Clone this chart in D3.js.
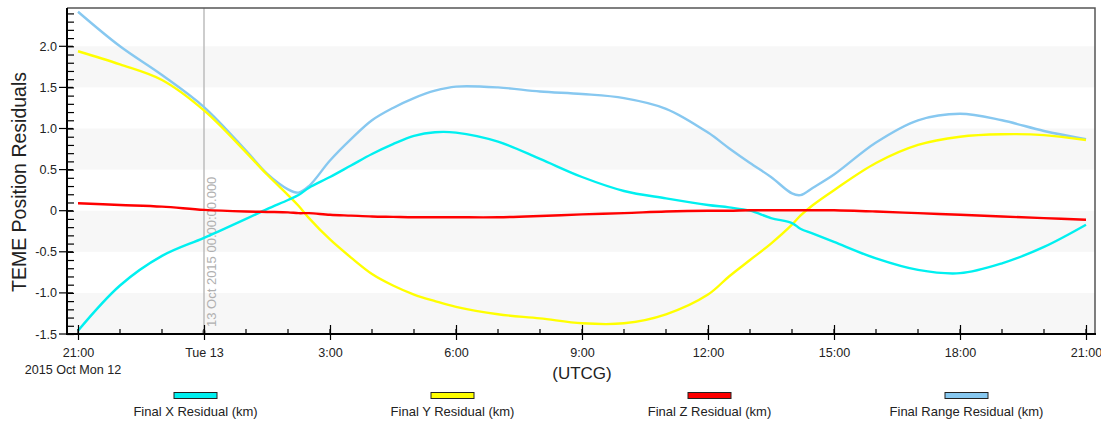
<!DOCTYPE html>
<html><head><meta charset="utf-8">
<script src="https://cdn.jsdelivr.net/npm/d3@7"></script>
<style>
html,body{margin:0;padding:0;background:#fff;}
svg{display:block;font-family:"Liberation Sans",Arial,sans-serif;}
</style></head>
<body>
<svg id="chart" width="1101" height="421"></svg>
<script>
// hours after 2015-10-12 21:00 UTCG
const hours = [0,1,2,3,4,4.5,5,5.25,5.5,6,6.5,7,7.5,8,8.5,9,10,11,12,13,14,15,15.5,16,16.5,17,17.2,17.5,18,19,20,21,22,23,24];
const xResidual = [-1.46,-0.91,-0.55,-0.33,-0.10,0.02,0.13,0.19,0.28,0.41,0.55,0.69,0.81,0.91,0.955,0.95,0.84,0.63,0.41,0.24,0.15,0.07,0.04,0.0,-0.09,-0.15,-0.22,-0.28,-0.38,-0.58,-0.72,-0.76,-0.64,-0.44,-0.17];
const yResidual = [1.94,1.78,1.59,1.22,0.71,0.44,0.19,0.06,-0.09,-0.35,-0.57,-0.77,-0.91,-1.02,-1.10,-1.17,-1.26,-1.31,-1.37,-1.37,-1.26,-1.02,-0.80,-0.60,-0.40,-0.17,-0.06,0.07,0.25,0.58,0.80,0.90,0.93,0.92,0.86];
const zResidual = [0.09,0.07,0.05,0.01,-0.01,-0.015,-0.02,-0.03,-0.03,-0.05,-0.06,-0.07,-0.075,-0.08,-0.08,-0.08,-0.08,-0.065,-0.045,-0.03,-0.01,0.0,0.0,0.005,0.005,0.005,0.005,0.005,0.005,-0.01,-0.03,-0.05,-0.07,-0.09,-0.11];
const rangeResidual = [2.42,2.00,1.65,1.26,0.73,0.45,0.26,0.22,0.30,0.61,0.87,1.10,1.25,1.37,1.46,1.51,1.50,1.45,1.42,1.37,1.24,0.95,0.76,0.58,0.41,0.21,0.19,0.28,0.44,0.83,1.10,1.18,1.10,0.97,0.87];

const seriesNames = ["Final X Residual (km)","Final Y Residual (km)","Final Z Residual (km)","Final Range Residual (km)"];
const seriesColors = ["#00f0f0","#ffff00","#ff0000","#87c8f0"];
const yMajorTicks = [-1.5,-1.0,-0.5,0,0.5,1.0,1.5,2.0];
const yTickLabels = ["-1.5","-1.0","-0.5","0","0.5","1.0","1.5","2.0"];
const xMajorHours = [0,3,6,9,12,15,18,21,24];
const xTickLabels = ["21:00","Tue 13","3:00","6:00","9:00","12:00","15:00","18:00","21:00"];
const bands = [[1.5,2.0],[0.5,1.0],[-0.5,0],[-1.5,-1.0]];
const markerHour = 3;
const markerLabel = "13 Oct 2015 00:00:00.000";

const svg = d3.select("#chart");
const L = 67, R = 1095, T = 8, B = 334;
const t0 = new Date(Date.UTC(2015,9,12,21,0,0));
const hd = h => new Date(t0.getTime() + h*3600000);
const x = d3.scaleUtc().domain([hd(-11/42), hd(24 + 9/42)]).range([L, R]);
const y = d3.scaleLinear().domain([-1.5, -1.5 + (B - T)/82.2]).range([B, T]);
const FONT = "'Liberation Sans',Arial,sans-serif";

// bands
svg.append("g").selectAll("rect").data(bands).join("rect")
  .attr("x", L).attr("width", R - L)
  .attr("y", d => y(d[1])).attr("height", d => y(d[0]) - y(d[1]))
  .attr("fill", "#f7f7f7");

// marker line
svg.append("line").attr("x1", x(hd(markerHour))).attr("x2", x(hd(markerHour)))
  .attr("y1", T).attr("y2", B).attr("stroke", "#bdbdbd").attr("stroke-width", 1.5);
svg.append("circle").attr("cx", x(hd(markerHour))).attr("cy", B - 2).attr("r", 2.2).attr("fill", "#aaa");
svg.append("text")
  .attr("transform", `translate(${x(hd(markerHour)) + 12},${B - 7}) rotate(-90)`)
  .attr("font-size", 13).attr("fill", "#b0b0b0").text(markerLabel);

// lines
const allSeries = [xResidual, yResidual, zResidual, rangeResidual];
const line = d3.line().x((d,i) => x(hd(hours[i]))).y(d => y(d)).curve(d3.curveCatmullRom.alpha(0.5));
const drawOrder = [3,1,0,2];
drawOrder.forEach(k => {
  svg.append("path").datum(allSeries[k]).attr("d", line)
    .attr("fill", "none").attr("stroke", seriesColors[k]).attr("stroke-width", 2.4)
    .attr("stroke-linejoin", "round");
});

// frame (top/right)
svg.append("path").attr("d", `M${L},${T}H${R}V${B}`).attr("fill", "none")
  .attr("stroke", "#555").attr("stroke-width", 1.5);

// y axis
const yMinor = d3.range(-15, 25).map(v => v/10);
svg.append("g").attr("transform", `translate(${L},0)`)
  .call(d3.axisLeft(y).tickValues(yMinor).tickSize(-7).tickFormat(""))
  .call(g => g.select(".domain").remove())
  .call(g => g.selectAll("line").attr("stroke", "#000").attr("stroke-width", 1.2));
svg.append("g").attr("transform", `translate(${L},0)`)
  .call(d3.axisLeft(y).tickValues(yMajorTicks).tickSize(0).tickPadding(10)
    .tickFormat((d,i) => yTickLabels[i]))
  .call(g => g.select(".domain").remove())
  .call(g => g.selectAll("text").attr("font-size", 12.6).attr("fill", "#222").attr("font-family", FONT));
svg.append("g").selectAll("line").data(yMajorTicks).join("line")
  .attr("x1", L - 8).attr("x2", L + 6).attr("y1", d => y(d)).attr("y2", d => y(d))
  .attr("stroke", "#000").attr("stroke-width", 1.2);
svg.append("line").attr("x1", L).attr("x2", L).attr("y1", T).attr("y2", B + 1)
  .attr("stroke", "#000").attr("stroke-width", 2);

// x axis
const xMinorHours = d3.range(0, 25);
svg.append("g").selectAll("line").data(xMinorHours).join("line")
  .attr("x1", d => x(hd(d))).attr("x2", d => x(hd(d)))
  .attr("y1", B - 5).attr("y2", B).attr("stroke", "#000").attr("stroke-width", 1.2);
svg.append("g").attr("transform", `translate(0,${B})`)
  .call(d3.axisBottom(x).tickValues(xMajorHours.map(hd)).tickSize(6).tickPadding(8)
    .tickFormat((d,i) => xTickLabels[i]))
  .call(g => g.select(".domain").remove())
  .call(g => g.selectAll("line").attr("stroke", "#000").attr("stroke-width", 1.2).attr("y1", -9))
  .call(g => g.selectAll("text").attr("font-size", 12.6).attr("fill", "#222").attr("font-family", FONT));
svg.append("line").attr("x1", L - 1).attr("x2", R + 1).attr("y1", B).attr("y2", B)
  .attr("stroke", "#000").attr("stroke-width", 2);
svg.append("text").attr("x", 73).attr("y", 374).attr("text-anchor", "middle")
  .attr("font-size", 12.6).attr("fill", "#222").text("2015 Oct Mon 12");

// axis titles
svg.append("text").attr("x", 582).attr("y", 379).attr("text-anchor", "middle")
  .attr("font-size", 17).attr("fill", "#222").text("(UTCG)");
svg.append("text").attr("transform", `translate(26,182) rotate(-90)`)
  .attr("text-anchor", "middle").attr("font-size", 19.5).attr("fill", "#222")
  .text("TEME Position Residuals");

// legend
const colW = (R - L) / seriesNames.length;
const lg = svg.append("g").selectAll("g").data(seriesNames).join("g")
  .attr("transform", (d,i) => `translate(${L + colW*(i + 0.5)},0)`);
lg.append("rect").attr("x", -21.5).attr("y", 392.5).attr("width", 43).attr("height", 6)
  .attr("fill", (d,i) => seriesColors[i]).attr("stroke", "#222").attr("stroke-width", 1);
lg.append("text").attr("y", 416).attr("text-anchor", "middle").attr("font-size", 13)
  .attr("fill", "#222").text(d => d);
</script>
</body></html>
